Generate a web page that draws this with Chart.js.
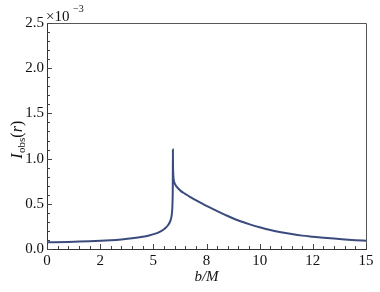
<!DOCTYPE html>
<html>
<head>
<meta charset="utf-8">
<script src="https://cdn.jsdelivr.net/npm/chart.js@4"></script>
<style>
    html, body { margin: 0; padding: 0; background: #ffffff; }
    #wrap { width: 380px; height: 292px; position: relative; }
</style>
</head>
<body>
<div id="wrap"><canvas id="intensityChart"></canvas></div>
<script>
// ============================================
// Observed intensity I_obs vs impact parameter b/M
// ============================================

// impact parameter b/M
const bValues = [0, 1, 2, 3, 3.5, 4, 4.5, 4.8, 5.1, 5.3, 5.45, 5.58, 5.68, 5.76, 5.82, 5.86, 5.89, 5.905, 5.915, 5.92,
    5.925, 5.935, 5.95, 5.98, 6.05, 6.15, 6.3, 6.5, 6.7, 7, 7.5, 8, 8.5, 9, 9.5, 10, 10.5,
    11, 11.5, 12, 12.5, 13, 13.5, 14, 14.5, 15];
// observed intensity, in units of 1e-3
const intensity = [0.075, 0.078, 0.085, 0.097, 0.106, 0.118, 0.135, 0.15, 0.17, 0.19, 0.21, 0.235, 0.26, 0.29, 0.325, 0.37, 0.44, 0.54, 0.7, 1.1,
    0.93, 0.84, 0.78, 0.74, 0.705, 0.675, 0.64, 0.61, 0.58, 0.54, 0.476, 0.42, 0.365, 0.315, 0.275, 0.24, 0.21,
    0.185, 0.165, 0.148, 0.136, 0.125, 0.115, 0.106, 0.098, 0.092];

// axis ticks
const xTickValues = [0, 2.5, 5, 7.5, 10, 12.5, 15];
const xTickLabels = ['0', '2', '5', '8', '10', '12', '15'];
const yTickValues = [0, 0.5, 1.0, 1.5, 2.0, 2.5];
const yTickLabels = ['0.0', '0.5', '1.0', '1.5', '2.0', '2.5'];

const SERIF = '"Liberation Serif", "Times New Roman", serif';
const LINE_COLOR = '#3b4b7d';

const points = bValues.map((b, i) => ({ x: b, y: intensity[i] }));

/**
 * Frame, inward ticks and the typeset axis titles
 */
const framePlugin = {
    id: 'frame',
    afterDraw(chart) {
        const { ctx, chartArea: a, scales } = chart;
        const xs = scales.x, ys = scales.y;
        ctx.save();

        // top + right frame
        ctx.strokeStyle = '#555555';
        ctx.lineWidth = 1;
        ctx.beginPath();
        ctx.moveTo(a.left, a.top + 0.5);
        ctx.lineTo(a.right + 0.5, a.top + 0.5);
        ctx.lineTo(a.right + 0.5, a.bottom);
        ctx.stroke();

        // inward ticks on bottom and left
        ctx.strokeStyle = '#444444';
        ctx.beginPath();
        for (let i = 0; i <= 30; i++) {
            const px = Math.round(xs.getPixelForValue(i * 0.5)) + 0.5;
            const len = (i % 5 === 0) ? 5 : 3;
            ctx.moveTo(px, a.bottom);
            ctx.lineTo(px, a.bottom - len);
        }
        for (let i = 0; i <= 25; i++) {
            const py = Math.round(ys.getPixelForValue(i * 0.1)) + 0.5;
            const len = (i % 5 === 0) ? 5 : 3;
            ctx.moveTo(a.left, py);
            ctx.lineTo(a.left + len, py);
        }
        ctx.stroke();

        ctx.fillStyle = '#111111';
        ctx.textBaseline = 'alphabetic';

        // x10^-3 multiplier
        ctx.textAlign = 'left';
        ctx.font = '15px ' + SERIF;
        ctx.fillText('\u00d710', a.left - 1, a.top - 2);
        ctx.font = '10px ' + SERIF;
        ctx.fillText('\u22123', a.left + 26, a.top - 11);

        // x title: b/M
        ctx.font = 'italic 15px ' + SERIF;
        ctx.textAlign = 'center';
        ctx.fillText('b/M', (a.left + a.right) / 2, 281);

        // y title: I_obs(r), rotated
        ctx.translate(22, 140);
        ctx.rotate(-Math.PI / 2);
        ctx.textAlign = 'left';
        const parts = [
            { t: 'I', f: 'italic 16px ', dy: 0 },
            { t: 'obs', f: '11px ', dy: 3 },
            { t: '(', f: '16px ', dy: 0 },
            { t: 'r', f: 'italic 16px ', dy: 0 },
            { t: ')', f: '16px ', dy: 0 }
        ];
        let total = 0;
        parts.forEach(p => { ctx.font = p.f + SERIF; total += ctx.measureText(p.t).width; });
        let cx = -total / 2;
        parts.forEach(p => {
            ctx.font = p.f + SERIF;
            ctx.fillText(p.t, cx, p.dy);
            cx += ctx.measureText(p.t).width + (p.t === 'I' ? 0.5 : 0);
        });

        ctx.restore();
    }
};

function createIntensityChart(canvasId) {
    const ctx = document.getElementById(canvasId);
    if (!ctx) return null;

    return new Chart(ctx, {
        type: 'line',
        data: {
            datasets: [{
                label: 'I_obs',
                data: points,
                borderColor: LINE_COLOR,
                borderWidth: 2,
                pointRadius: 0,
                fill: false,
                cubicInterpolationMode: 'monotone'
            }]
        },
        options: {
            responsive: true,
            maintainAspectRatio: false,
            animation: false,
            layout: { padding: { top: 23, right: 14, left: 0, bottom: 0 } },
            scales: {
                x: {
                    type: 'linear',
                    min: 0,
                    max: 15,
                    afterBuildTicks: function(scale) {
                        scale.ticks = xTickValues.map(v => ({ value: v }));
                    },
                    afterFit: function(scale) { scale.height = 43; },
                    ticks: {
                        autoSkip: false,
                        maxRotation: 0,
                        padding: 3,
                        color: '#111111',
                        font: { family: SERIF, size: 15 },
                        callback: function(value) {
                            const i = xTickValues.indexOf(value);
                            return i >= 0 ? xTickLabels[i] : '';
                        }
                    },
                    grid: { display: false, drawTicks: false },
                    border: { display: true, color: '#333333', width: 1 }
                },
                y: {
                    type: 'linear',
                    min: 0,
                    max: 2.5,
                    afterBuildTicks: function(scale) {
                        scale.ticks = yTickValues.map(v => ({ value: v }));
                    },
                    afterFit: function(scale) { scale.width = 47; },
                    ticks: {
                        autoSkip: false,
                        padding: 3,
                        color: '#111111',
                        font: { family: SERIF, size: 15 },
                        callback: function(value) {
                            const i = yTickValues.indexOf(value);
                            return i >= 0 ? yTickLabels[i] : '';
                        }
                    },
                    grid: { display: false, drawTicks: false },
                    border: { display: true, color: '#333333', width: 1 }
                }
            },
            plugins: {
                legend: { display: false },
                tooltip: { enabled: false }
            }
        },
        plugins: [framePlugin]
    });
}

createIntensityChart('intensityChart');
</script>
</body>
</html>
